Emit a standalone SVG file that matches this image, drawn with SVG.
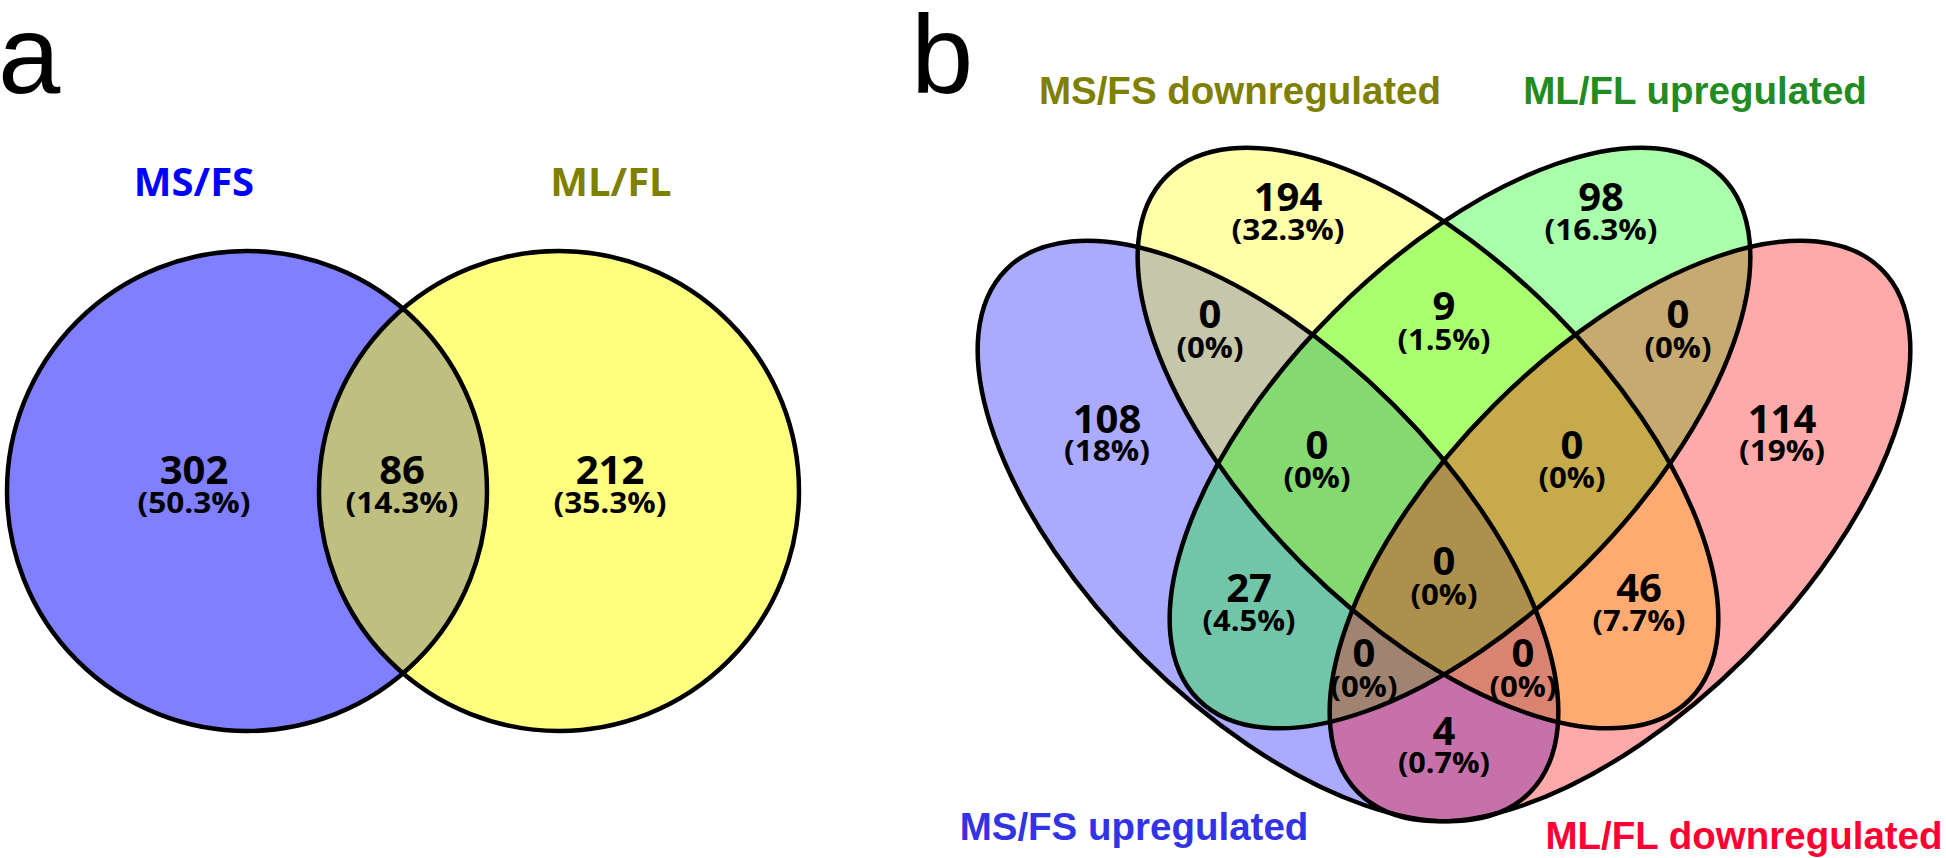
<svg xmlns="http://www.w3.org/2000/svg" width="1946" height="858" viewBox="0 0 1946 858">
<style>
.panel{font-family:"Liberation Sans",Arial,sans-serif;font-size:112px;fill:#000}
.num{font-family:"Open Sans","Noto Sans",sans-serif;font-weight:700;font-size:40px;text-anchor:middle;fill:#000}
.pct{font-family:"Open Sans","Noto Sans",sans-serif;font-weight:700;font-size:28px;text-anchor:middle;fill:#000}
.setA{font-family:"Open Sans","Noto Sans",sans-serif;font-weight:700;font-size:40px;text-anchor:middle}
.setB{font-family:"Liberation Sans",Arial,sans-serif;font-weight:700;font-size:38.5px;text-anchor:middle}
.outline{fill:none;stroke:#000;stroke-width:4.5}
</style>
<rect width="1946" height="858" fill="#fff"/>
<text class="panel" x="-2" y="93">a</text>
<text class="panel" x="911" y="93">b</text>

<g id="panel-a">
  <g id="set-a-msfs">
    <circle cx="247" cy="491" r="240" fill="#0000FF" fill-opacity="0.5"/>
    <text class="setA" x="194" y="196" fill="#0000FF">MS/FS</text>
  </g>
  <g id="set-a-mlfl">
    <circle cx="559" cy="491" r="240" fill="#FFFF00" fill-opacity="0.5"/>
    <text class="setA" x="611" y="196" fill="#808000">ML/FL</text>
  </g>
  <g id="outlines-a">
    <circle class="outline" cx="247" cy="491" r="240"/>
    <circle class="outline" cx="559" cy="491" r="240"/>
  </g>
  <g id="region-a-msfs-only">
    <text class="num" x="194" y="484">302</text>
    <text class="pct" x="194" y="513" textLength="113" lengthAdjust="spacingAndGlyphs">(50.3%)</text>
  </g>
  <g id="region-a-both">
    <text class="num" x="402" y="484">86</text>
    <text class="pct" x="402" y="513" textLength="113" lengthAdjust="spacingAndGlyphs">(14.3%)</text>
  </g>
  <g id="region-a-mlfl-only">
    <text class="num" x="610" y="484">212</text>
    <text class="pct" x="610" y="513" textLength="113" lengthAdjust="spacingAndGlyphs">(35.3%)</text>
  </g>
</g>

<g id="panel-b">
  <g id="set-b-msfs-up">
    <ellipse cx="1268" cy="531" rx="370" ry="178" transform="rotate(45 1268 531)" fill="#0000FF" fill-opacity="0.3333"/>
    <text class="setB" x="1134" y="840" fill="#3333E6">MS/FS upregulated</text>
  </g>
  <g id="set-b-msfs-down">
    <ellipse cx="1428" cy="438" rx="370" ry="178" transform="rotate(45 1428 438)" fill="#FFFF00" fill-opacity="0.3333"/>
    <text class="setB" x="1240" y="104" fill="#808000">MS/FS downregulated</text>
  </g>
  <g id="set-b-mlfl-up">
    <ellipse cx="1460" cy="438" rx="370" ry="178" transform="rotate(-45 1460 438)" fill="#00FF00" fill-opacity="0.3333"/>
    <text class="setB" x="1695" y="104" fill="#228B22">ML/FL upregulated</text>
  </g>
  <g id="set-b-mlfl-down">
    <ellipse cx="1620" cy="531" rx="370" ry="178" transform="rotate(-45 1620 531)" fill="#FF0000" fill-opacity="0.3333"/>
    <text class="setB" x="1744" y="849" fill="#FF0033">ML/FL downregulated</text>
  </g>
  <g id="outlines-b">
    <ellipse class="outline" cx="1268" cy="531" rx="370" ry="178" transform="rotate(45 1268 531)"/>
    <ellipse class="outline" cx="1428" cy="438" rx="370" ry="178" transform="rotate(45 1428 438)"/>
    <ellipse class="outline" cx="1460" cy="438" rx="370" ry="178" transform="rotate(-45 1460 438)"/>
    <ellipse class="outline" cx="1620" cy="531" rx="370" ry="178" transform="rotate(-45 1620 531)"/>
  </g>
  <g id="r-194"><text class="num" x="1288" y="211">194</text><text class="pct" x="1288" y="240" textLength="113" lengthAdjust="spacingAndGlyphs">(32.3%)</text></g>
  <g id="r-98"><text class="num" x="1601" y="211">98</text><text class="pct" x="1601" y="240" textLength="113" lengthAdjust="spacingAndGlyphs">(16.3%)</text></g>
  <g id="r-up-down"><text class="num" x="1210" y="328">0</text><text class="pct" x="1210" y="358" textLength="67" lengthAdjust="spacingAndGlyphs">(0%)</text></g>
  <g id="r-9"><text class="num" x="1444" y="320">9</text><text class="pct" x="1444" y="350" textLength="93" lengthAdjust="spacingAndGlyphs">(1.5%)</text></g>
  <g id="r-up2-down2"><text class="num" x="1678" y="328">0</text><text class="pct" x="1678" y="358" textLength="67" lengthAdjust="spacingAndGlyphs">(0%)</text></g>
  <g id="r-108"><text class="num" x="1107" y="433">108</text><text class="pct" x="1107" y="461" textLength="86" lengthAdjust="spacingAndGlyphs">(18%)</text></g>
  <g id="r-114"><text class="num" x="1782" y="433">114</text><text class="pct" x="1782" y="461" textLength="86" lengthAdjust="spacingAndGlyphs">(19%)</text></g>
  <g id="r-three-left"><text class="num" x="1317" y="459">0</text><text class="pct" x="1317" y="488" textLength="67" lengthAdjust="spacingAndGlyphs">(0%)</text></g>
  <g id="r-three-right"><text class="num" x="1572" y="459">0</text><text class="pct" x="1572" y="488" textLength="67" lengthAdjust="spacingAndGlyphs">(0%)</text></g>
  <g id="r-all"><text class="num" x="1444" y="575">0</text><text class="pct" x="1444" y="605" textLength="67" lengthAdjust="spacingAndGlyphs">(0%)</text></g>
  <g id="r-27"><text class="num" x="1249" y="602">27</text><text class="pct" x="1249" y="631" textLength="93" lengthAdjust="spacingAndGlyphs">(4.5%)</text></g>
  <g id="r-46"><text class="num" x="1639" y="602">46</text><text class="pct" x="1639" y="631" textLength="93" lengthAdjust="spacingAndGlyphs">(7.7%)</text></g>
  <g id="r-low-left"><text class="num" x="1364" y="667">0</text><text class="pct" x="1364" y="697" textLength="67" lengthAdjust="spacingAndGlyphs">(0%)</text></g>
  <g id="r-low-right"><text class="num" x="1523" y="667">0</text><text class="pct" x="1523" y="697" textLength="67" lengthAdjust="spacingAndGlyphs">(0%)</text></g>
  <g id="r-4"><text class="num" x="1444" y="745">4</text><text class="pct" x="1444" y="773" textLength="92" lengthAdjust="spacingAndGlyphs">(0.7%)</text></g>
</g>
<g id="connectors"/>
</svg>
